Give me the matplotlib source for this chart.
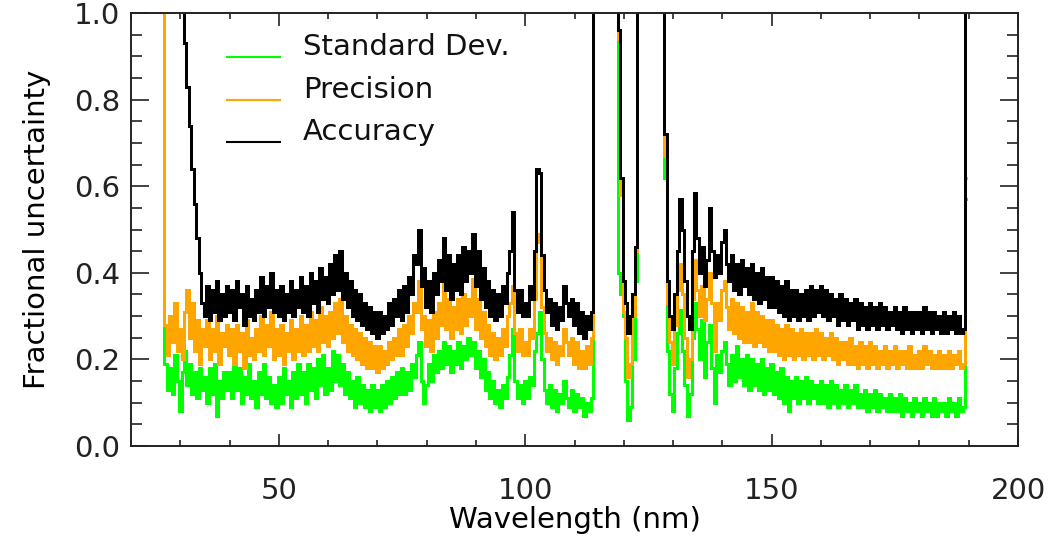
import numpy as np
import matplotlib.pyplot as plt
from matplotlib.ticker import MultipleLocator, FormatStrFormatter

# off-scale value used where the curves run above the top of the plot
HI = 5.0

# wavelength grid, 0.5 nm bins from 25.0 to 189.5 nm
wavelength = np.arange(25.0, 190.0, 0.5)

# Standard deviation (green)
std_dev = [
    HI, HI, HI, HI, 0.19, 0.13, 0.18, 0.12, 0.21, 0.15,              # 25
    0.08, 0.17, 0.22, 0.14, 0.19, 0.12, 0.17, 0.11, 0.18, 0.13,      # 30
    0.16, 0.10, 0.18, 0.12, 0.19, 0.07, 0.15, 0.11, 0.17, 0.13,      # 35
    0.17, 0.11, 0.20, 0.13, 0.18, 0.10, 0.16, 0.12, 0.19, 0.11,      # 40
    0.15, 0.09, 0.17, 0.12, 0.19, 0.11, 0.16, 0.10, 0.14, 0.09,      # 45
    0.16, 0.10, 0.18, 0.12, 0.15, 0.09, 0.17, 0.11, 0.19, 0.12,      # 50
    0.17, 0.10, 0.19, 0.13, 0.18, 0.11, 0.20, 0.14, 0.21, 0.12,      # 55
    0.18, 0.13, 0.22, 0.15, 0.21, 0.14, 0.19, 0.12, 0.17, 0.11,      # 60
    0.15, 0.09, 0.16, 0.10, 0.14, 0.09, 0.13, 0.08, 0.14, 0.09,      # 65
    0.13, 0.08, 0.14, 0.09, 0.15, 0.10, 0.16, 0.11, 0.17, 0.12,      # 70
    0.18, 0.12, 0.17, 0.13, 0.19, 0.16, 0.21, 0.24, 0.15, 0.10,      # 75
    0.14, 0.19, 0.15, 0.21, 0.17, 0.22, 0.18, 0.24, 0.19, 0.23,      # 80
    0.17, 0.22, 0.19, 0.24, 0.18, 0.23, 0.20, 0.25, 0.21, 0.24,      # 85
    0.18, 0.22, 0.16, 0.20, 0.13, 0.17, 0.11, 0.15, 0.10, 0.13,      # 90
    0.09, 0.14, 0.11, 0.16, 0.21, 0.27, 0.15, 0.11, 0.14, 0.10,      # 95
    0.15, 0.11, 0.16, 0.14, 0.22, 0.26, 0.31, 0.20, 0.13, 0.10,      # 100
    0.14, 0.09, 0.13, 0.08, 0.12, 0.10, 0.15, 0.11, 0.09, 0.13,      # 105
    0.08, 0.12, 0.09, 0.11, 0.07, 0.10, 0.08, 0.11, HI, HI,          # 110
    HI, HI, HI, HI, HI, HI, HI, HI, 0.40, 0.35,                      # 115
    0.30, 0.15, 0.06, 0.09, 0.20, 0.38, HI, HI, HI, HI,              # 120
    HI, HI, HI, HI, HI, HI, HI, 0.62, 0.22, 0.12,                    # 125
    0.08, 0.18, 0.26, 0.315, 0.22, 0.14, 0.07, 0.12, 0.25, 0.33,     # 130
    0.27, 0.20, 0.29, 0.16, 0.24, 0.28, 0.18, 0.10, 0.21, 0.17,      # 135
    0.22, 0.24, 0.19, 0.14, 0.21, 0.15, 0.23, 0.16, 0.20, 0.14,      # 140
    0.21, 0.13, 0.20, 0.14, 0.19, 0.13, 0.20, 0.12, 0.18, 0.13,      # 145
    0.19, 0.12, 0.17, 0.11, 0.18, 0.10, 0.16, 0.08, 0.15, 0.11,      # 150
    0.16, 0.10, 0.15, 0.11, 0.16, 0.10, 0.15, 0.11, 0.14, 0.10,      # 155
    0.15, 0.10, 0.14, 0.09, 0.15, 0.10, 0.14, 0.09, 0.13, 0.10,      # 160
    0.14, 0.09, 0.13, 0.10, 0.14, 0.09, 0.12, 0.09, 0.13, 0.08,      # 165
    0.12, 0.09, 0.13, 0.08, 0.12, 0.09, 0.11, 0.08, 0.12, 0.08,      # 170
    0.11, 0.08, 0.12, 0.07, 0.11, 0.08, 0.10, 0.07, 0.11, 0.08,      # 175
    0.10, 0.07, 0.11, 0.08, 0.10, 0.07, 0.11, 0.07, 0.10, 0.08,      # 180
    0.10, 0.07, 0.11, 0.08, 0.10, 0.07, 0.11, 0.08, 0.09, 0.57,      # 185
]

# Precision (orange)
precision = [
    HI, HI, HI, HI, 0.28, 0.21, 0.30, 0.24, 0.33, 0.22,              # 25
    0.27, 0.20, 0.31, 0.36, 0.25, 0.33, 0.22, 0.29, 0.19, 0.27,      # 30
    0.23, 0.29, 0.20, 0.27, 0.22, 0.30, 0.19, 0.26, 0.23, 0.28,      # 35
    0.21, 0.27, 0.19, 0.28, 0.22, 0.26, 0.18, 0.29, 0.21, 0.25,      # 40
    0.20, 0.27, 0.22, 0.30, 0.21, 0.28, 0.23, 0.31, 0.20, 0.27,      # 45
    0.21, 0.28, 0.19, 0.26, 0.22, 0.29, 0.20, 0.27, 0.22, 0.30,      # 50
    0.21, 0.28, 0.22, 0.31, 0.23, 0.29, 0.22, 0.32, 0.24, 0.30,      # 55
    0.23, 0.31, 0.25, 0.33, 0.26, 0.34, 0.24, 0.30, 0.22, 0.28,      # 60
    0.21, 0.27, 0.20, 0.26, 0.19, 0.25, 0.18, 0.24, 0.18, 0.23,      # 65
    0.17, 0.23, 0.18, 0.22, 0.19, 0.24, 0.20, 0.25, 0.21, 0.27,      # 70
    0.21, 0.28, 0.23, 0.30, 0.26, 0.33, 0.31, 0.38, 0.27, 0.30,      # 75
    0.23, 0.29, 0.22, 0.31, 0.25, 0.33, 0.28, 0.38, 0.27, 0.34,      # 80
    0.25, 0.32, 0.27, 0.34, 0.26, 0.35, 0.28, 0.34, 0.30, 0.385,     # 85
    0.27, 0.34, 0.25, 0.31, 0.23, 0.28, 0.21, 0.26, 0.20, 0.25,      # 90
    0.21, 0.27, 0.23, 0.30, 0.33, 0.37, 0.26, 0.22, 0.27, 0.21,      # 95
    0.24, 0.21, 0.27, 0.25, 0.34, 0.49, 0.47, 0.32, 0.26, 0.22,      # 100
    0.25, 0.20, 0.24, 0.19, 0.23, 0.21, 0.27, 0.24, 0.21, 0.25,      # 105
    0.19, 0.24, 0.18, 0.22, 0.18, 0.23, 0.19, 0.25, HI, HI,          # 110
    HI, HI, HI, HI, HI, HI, HI, HI, 0.94, 0.58,                      # 115
    0.31, 0.25, 0.16, 0.19, 0.30, 0.45, HI, HI, HI, HI,              # 120
    HI, HI, HI, HI, HI, HI, HI, 0.67, 0.33, 0.24,                    # 125
    0.19, 0.28, 0.36, 0.42, 0.35, 0.25, 0.16, 0.20, 0.34, 0.43,      # 130
    0.36, 0.30, 0.37, 0.29, 0.34, 0.40, 0.33, 0.22, 0.33, 0.29,      # 135
    0.36, 0.38, 0.32, 0.27, 0.34, 0.26, 0.33, 0.25, 0.32, 0.24,      # 140
    0.31, 0.24, 0.33, 0.23, 0.31, 0.24, 0.30, 0.23, 0.29, 0.22,      # 145
    0.29, 0.22, 0.28, 0.21, 0.27, 0.20, 0.28, 0.21, 0.27, 0.20,      # 150
    0.26, 0.21, 0.27, 0.20, 0.26, 0.21, 0.26, 0.20, 0.27, 0.21,      # 155
    0.26, 0.20, 0.25, 0.21, 0.26, 0.20, 0.25, 0.19, 0.24, 0.20,      # 160
    0.24, 0.19, 0.25, 0.19, 0.23, 0.18, 0.24, 0.19, 0.23, 0.18,      # 165
    0.24, 0.19, 0.23, 0.18, 0.22, 0.19, 0.23, 0.18, 0.22, 0.19,      # 170
    0.23, 0.18, 0.22, 0.19, 0.22, 0.18, 0.23, 0.18, 0.21, 0.18,      # 175
    0.22, 0.18, 0.23, 0.19, 0.22, 0.18, 0.21, 0.18, 0.22, 0.18,      # 180
    0.21, 0.18, 0.22, 0.18, 0.21, 0.19, 0.22, 0.18, 0.19, 0.62,      # 185
]

# Accuracy (black)
accuracy = [
    HI, HI, HI, HI, HI, HI, HI, HI, HI, HI,                          # 25
    HI, 1.08, 0.93, 0.83, 0.74, 0.64, 0.56, 0.48, 0.40, 0.33,        # 30
    0.30, 0.37, 0.29, 0.36, 0.31, 0.38, 0.29, 0.35, 0.30, 0.37,      # 35
    0.31, 0.36, 0.29, 0.38, 0.32, 0.35, 0.28, 0.37, 0.30, 0.34,      # 40
    0.29, 0.36, 0.31, 0.39, 0.30, 0.37, 0.32, 0.40, 0.31, 0.36,      # 45
    0.30, 0.37, 0.29, 0.35, 0.31, 0.38, 0.30, 0.36, 0.32, 0.39,      # 50
    0.31, 0.37, 0.30, 0.40, 0.33, 0.38, 0.31, 0.41, 0.34, 0.39,      # 55
    0.33, 0.42, 0.35, 0.44, 0.36, 0.45, 0.34, 0.40, 0.32, 0.38,      # 60
    0.30, 0.36, 0.29, 0.35, 0.28, 0.33, 0.27, 0.32, 0.26, 0.31,      # 65
    0.25, 0.31, 0.26, 0.30, 0.27, 0.33, 0.28, 0.34, 0.30, 0.36,      # 70
    0.29, 0.37, 0.31, 0.39, 0.35, 0.44, 0.42, 0.50, 0.37, 0.41,      # 75
    0.32, 0.38, 0.31, 0.40, 0.35, 0.43, 0.38, 0.48, 0.36, 0.44,      # 80
    0.34, 0.42, 0.36, 0.44, 0.35, 0.46, 0.38, 0.45, 0.40, 0.49,      # 85
    0.37, 0.45, 0.34, 0.41, 0.32, 0.38, 0.30, 0.36, 0.29, 0.35,      # 90
    0.30, 0.37, 0.33, 0.40, 0.45, 0.54, 0.36, 0.31, 0.36, 0.30,      # 95
    0.33, 0.30, 0.37, 0.34, 0.45, 0.64, 0.63, 0.44, 0.36, 0.31,      # 100
    0.34, 0.28, 0.33, 0.27, 0.32, 0.29, 0.37, 0.33, 0.30, 0.34,      # 105
    0.28, 0.33, 0.26, 0.31, 0.25, 0.30, 0.27, 0.31, HI, HI,          # 110
    HI, HI, HI, HI, HI, HI, HI, HI, 0.96, 0.62,                      # 115
    0.38, 0.33, 0.26, 0.30, 0.35, 0.46, HI, HI, HI, HI,              # 120
    HI, HI, HI, HI, HI, HI, HI, 0.72, 0.38, 0.30,                    # 125
    0.27, 0.35, 0.45, 0.57, 0.50, 0.38, 0.30, 0.27, 0.45, 0.585,     # 130
    0.48, 0.40, 0.46, 0.37, 0.43, 0.55, 0.45, 0.39, 0.44, 0.40,      # 135
    0.47, 0.50, 0.42, 0.38, 0.44, 0.36, 0.42, 0.35, 0.43, 0.37,      # 140
    0.41, 0.35, 0.42, 0.34, 0.40, 0.33, 0.41, 0.34, 0.39, 0.32,      # 145
    0.39, 0.32, 0.38, 0.31, 0.37, 0.30, 0.38, 0.29, 0.36, 0.30,      # 150
    0.36, 0.29, 0.35, 0.30, 0.36, 0.29, 0.37, 0.30, 0.36, 0.31,      # 155
    0.37, 0.30, 0.36, 0.29, 0.35, 0.30, 0.34, 0.28, 0.35, 0.29,      # 160
    0.34, 0.28, 0.33, 0.29, 0.34, 0.27, 0.33, 0.28, 0.32, 0.27,      # 165
    0.33, 0.28, 0.32, 0.27, 0.33, 0.28, 0.32, 0.27, 0.31, 0.28,      # 170
    0.32, 0.27, 0.31, 0.26, 0.32, 0.27, 0.31, 0.26, 0.31, 0.27,      # 175
    0.31, 0.26, 0.32, 0.27, 0.31, 0.26, 0.31, 0.27, 0.30, 0.26,      # 180
    0.31, 0.26, 0.30, 0.27, 0.31, 0.26, 0.30, 0.26, 0.27, HI,        # 185
]

series_names = ['Standard Dev.', 'Precision', 'Accuracy']
series_colors = ['#00ff00', '#ffa500', '#000000']

plt.rcParams['font.family'] = 'DejaVu Sans'

fig = plt.figure(figsize=(10.51, 5.38), dpi=100)
ax = fig.add_axes([131 / 1051, 92 / 538, 887 / 1051, 433 / 538])

# IDL-style histogram lines, thick enough that the noise fills in
for vals, col in zip([std_dev, precision, accuracy], series_colors):
    ax.plot(wavelength, vals, drawstyle='steps-mid', color=col, lw=1.9,
            solid_joinstyle='miter', antialiased=False)

ax.set_xlim(20, 200)
ax.set_ylim(0, 1.0)
ax.xaxis.set_major_locator(MultipleLocator(50))
ax.xaxis.set_minor_locator(MultipleLocator(10))
ax.yaxis.set_major_locator(MultipleLocator(0.2))
ax.yaxis.set_minor_locator(MultipleLocator(0.05))
ax.yaxis.set_major_formatter(FormatStrFormatter('%.1f'))

ax.tick_params(which='both', direction='in', top=True, right=True, width=1.2, colors='#222222')
ax.tick_params(axis='x', which='major', length=9, pad=22, labelsize=21)
ax.tick_params(axis='x', which='minor', length=4.5)
ax.tick_params(axis='y', which='major', length=13, pad=8, labelsize=21)
ax.tick_params(axis='y', which='minor', length=8)
for s in ax.spines.values():
    s.set_linewidth(1.4)
    s.set_color('#222222')

ax.set_xlabel('Wavelength (nm)', fontsize=21, labelpad=1)
ax.set_ylabel('Fractional uncertainty', fontsize=21, labelpad=16)

# legend drawn by hand, IDL style
leg_y = [0.899, 0.800, 0.703]
for name, col, yy in zip(series_names, series_colors, leg_y):
    ax.plot([0.108, 0.168], [yy, yy], color=col, lw=1.5, transform=ax.transAxes)
    ax.text(0.194, yy + 0.022, name, color='#111111', fontsize=21,
            va='center', ha='left', transform=ax.transAxes)

fig.savefig('out.png', dpi=100)
